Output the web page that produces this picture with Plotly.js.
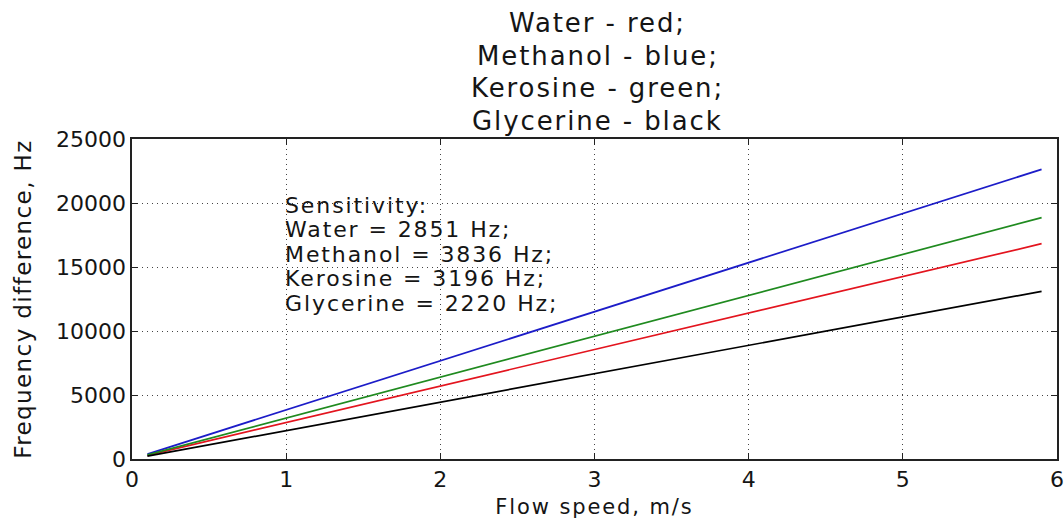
<!DOCTYPE html>
<html>
<head>
<meta charset="utf-8">
<script src="https://cdn.plot.ly/plotly-3.0.1.min.js"></script>
<style>
html,body{margin:0;padding:0;background:#fff;}
#chart{width:1064px;height:521px;}
.annotation-text, .xtitle { letter-spacing: 1.9px; }
.ytitle { letter-spacing: 1.4px; }
</style>
</head>
<body>
<div id="chart"></div>
<script>
// Data
const speed = [0.1, 5.9];
const water = [285, 16820];
const methanol = [384, 22630];
const kerosine = [320, 18860];
const glycerine = [222, 13100];

const titleLines = ["Water - red;", "Methanol - blue;", "Kerosine - green;", "Glycerine - black"];
const noteLines = ["Sensitivity:", "Water = 2851 Hz;", "Methanol = 3836 Hz;", "Kerosine = 3196 Hz;", "Glycerine = 2220 Hz;"];
const xTicks = [0, 1, 2, 3, 4, 5, 6];
const yTicks = [0, 5000, 10000, 15000, 20000, 25000];

const FONT = "DejaVu Sans, Verdana, sans-serif";

const series = [
  {name: "Water", y: water, color: "#e3141e"},
  {name: "Methanol", y: methanol, color: "#1c1cc8"},
  {name: "Kerosine", y: kerosine, color: "#1f8a1f"},
  {name: "Glycerine", y: glycerine, color: "#000000"}
];

const traces = series.map(s => ({
  x: speed, y: s.y, type: "scatter", mode: "lines", name: s.name,
  line: {color: s.color, width: 1.7}, showlegend: false, hoverinfo: "skip"
}));

const annotations = [];
titleLines.forEach((t, i) => {
  annotations.push({
    text: t, xref: "paper", yref: "paper", x: 0.5, y: 1, xanchor: "center", yanchor: "middle",
    xshift: 3, yshift: 116 - i * 32.7, showarrow: false, font: {family: FONT, size: 26, color: "#151515"}
  });
});
noteLines.forEach((t, i) => {
  annotations.push({
    text: t, xref: "x", yref: "paper", x: 1, y: 1, xanchor: "left", yanchor: "middle", align: "left",
    xshift: -3, yshift: -66 - i * 24.6, showarrow: false, font: {family: FONT, size: 22, color: "#151515"}
  });
});

const axisCommon = {
  showline: true, linecolor: "#222", linewidth: 1.6, mirror: "ticks",
  ticks: "inside", ticklen: 6, tickcolor: "#222", tickwidth: 1,
  showgrid: true, gridcolor: "#444", griddash: "1px,4px", gridwidth: 1,
  zeroline: false, tickfont: {family: FONT, size: 22, color: "#151515"}
};

const layout = {
  width: 1064, height: 521,
  margin: {l: 132, r: 7, t: 139, b: 62},
  paper_bgcolor: "#fff", plot_bgcolor: "#fff",
  font: {family: FONT, color: "#151515"},
  xaxis: Object.assign({}, axisCommon, {
    range: [0, 6], tickvals: xTicks, ticktext: xTicks.map(String),
    title: {text: "Flow speed, m/s", font: {family: FONT, size: 21, color: "#151515"}, standoff: 8}
  }),
  yaxis: Object.assign({}, axisCommon, {
    range: [0, 25000], tickvals: yTicks, ticktext: yTicks.map(String),
    title: {text: "Frequency difference, Hz", font: {family: FONT, size: 23, color: "#151515"}, standoff: 18}
  }),
  annotations: annotations
};

Plotly.newPlot("chart", traces, layout, {staticPlot: true, displayModeBar: false});
</script>
</body>
</html>
